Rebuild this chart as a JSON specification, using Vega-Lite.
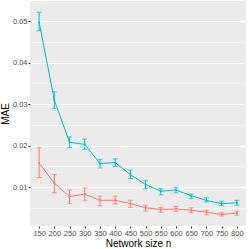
{
  "$schema": "https://vega.github.io/schema/vega-lite/v6.json",
  "width": 216,
  "height": 225,
  "autosize": {"type": "none"},
  "padding": {"left": 30, "top": 1, "right": 3, "bottom": 23},
  "background": "white",
  "config": {
    "view": {"fill": "#EBEBEB", "stroke": null},
    "font": "Liberation Sans",
    "axis": {
      "domain": false,
      "gridColor": "white",
      "gridWidth": 1,
      "tickColor": "#333333",
      "tickSize": 2,
      "tickWidth": 1,
      "labelColor": "#4D4D4D",
      "labelFontSize": 7.5,
      "labelFont": "Liberation Sans",
      "labelPadding": 1,
      "titleFont": "Liberation Sans",
      "titleFontSize": 10,
      "titleFontWeight": "normal",
      "titleColor": "black"
    }
  },
  "data": {
    "values": [
      {"n": 150, "group": "A", "mae": 0.0158, "lo": 0.0123, "hi": 0.0195},
      {"n": 200, "group": "A", "mae": 0.0109, "lo": 0.0086, "hi": 0.0130},
      {"n": 250, "group": "A", "mae": 0.0077, "lo": 0.0060, "hi": 0.0093},
      {"n": 300, "group": "A", "mae": 0.0083, "lo": 0.0068, "hi": 0.0098},
      {"n": 350, "group": "A", "mae": 0.0068, "lo": 0.0055, "hi": 0.0078},
      {"n": 400, "group": "A", "mae": 0.0068, "lo": 0.0059, "hi": 0.0078},
      {"n": 450, "group": "A", "mae": 0.0060, "lo": 0.0051, "hi": 0.0068},
      {"n": 500, "group": "A", "mae": 0.0050, "lo": 0.0042, "hi": 0.0056},
      {"n": 550, "group": "A", "mae": 0.0046, "lo": 0.0039, "hi": 0.0051},
      {"n": 600, "group": "A", "mae": 0.0047, "lo": 0.0041, "hi": 0.0053},
      {"n": 650, "group": "A", "mae": 0.0044, "lo": 0.0038, "hi": 0.0050},
      {"n": 700, "group": "A", "mae": 0.0039, "lo": 0.0033, "hi": 0.0044},
      {"n": 750, "group": "A", "mae": 0.0034, "lo": 0.0030, "hi": 0.0038},
      {"n": 800, "group": "A", "mae": 0.0037, "lo": 0.0032, "hi": 0.0042},
      {"n": 150, "group": "B", "mae": 0.0498, "lo": 0.0477, "hi": 0.0522},
      {"n": 200, "group": "B", "mae": 0.0310, "lo": 0.0290, "hi": 0.0330},
      {"n": 250, "group": "B", "mae": 0.0208, "lo": 0.0195, "hi": 0.0221},
      {"n": 300, "group": "B", "mae": 0.0203, "lo": 0.0191, "hi": 0.0216},
      {"n": 350, "group": "B", "mae": 0.0157, "lo": 0.0146, "hi": 0.0167},
      {"n": 400, "group": "B", "mae": 0.0159, "lo": 0.0150, "hi": 0.0168},
      {"n": 450, "group": "B", "mae": 0.0130, "lo": 0.0120, "hi": 0.0141},
      {"n": 500, "group": "B", "mae": 0.0106, "lo": 0.0096, "hi": 0.0116},
      {"n": 550, "group": "B", "mae": 0.0090, "lo": 0.0081, "hi": 0.0096},
      {"n": 600, "group": "B", "mae": 0.0093, "lo": 0.0086, "hi": 0.0099},
      {"n": 650, "group": "B", "mae": 0.0079, "lo": 0.0072, "hi": 0.0083},
      {"n": 700, "group": "B", "mae": 0.0068, "lo": 0.0064, "hi": 0.0074},
      {"n": 750, "group": "B", "mae": 0.0060, "lo": 0.0055, "hi": 0.0066},
      {"n": 800, "group": "B", "mae": 0.0062, "lo": 0.0056, "hi": 0.0068}
    ]
  },
  "encoding": {
    "x": {
      "field": "n",
      "type": "ordinal",
      "scale": {"type": "point", "padding": 0.6},
      "axis": {"title": "Network size n", "labelAngle": 0, "titlePadding": 2}
    },
    "y": {
      "field": "mae",
      "type": "quantitative",
      "scale": {"domain": [0.0006, 0.0549], "nice": false, "zero": false},
      "axis": {
        "title": "MAE",
        "titlePadding": 2,
        "values": [0.005, 0.01, 0.015, 0.02, 0.025, 0.03, 0.035, 0.04, 0.045, 0.05],
        "format": ".3f",
        "labelExpr": "slice(datum.label, -1) == '0' ? slice(datum.label, 0, 4) : ''",
        "gridWidth": {"condition": {"test": "datum.value * 200 % 2 > 0.5 && datum.value * 200 % 2 < 1.5", "value": 0.5}, "value": 1},
        "tickOpacity": {"condition": {"test": "datum.value * 200 % 2 > 0.5 && datum.value * 200 % 2 < 1.5", "value": 0}, "value": 1}
      }
    },
    "color": {
      "field": "group",
      "type": "nominal",
      "scale": {"domain": ["A", "B"], "range": ["#F8766D", "#00BFC4"]},
      "legend": null
    }
  },
  "layer": [
    {
      "mark": {"type": "rule", "strokeWidth": 1},
      "encoding": {
        "y": {"field": "lo", "type": "quantitative"},
        "y2": {"field": "hi"}
      }
    },
    {
      "mark": {"type": "tick", "thickness": 1, "size": 5},
      "encoding": {"y": {"field": "lo", "type": "quantitative"}}
    },
    {
      "mark": {"type": "tick", "thickness": 1, "size": 5},
      "encoding": {"y": {"field": "hi", "type": "quantitative"}}
    },
    {
      "mark": {"type": "line", "strokeWidth": 1}
    },
    {
      "mark": {"type": "point", "filled": true, "size": 4, "opacity": 1}
    }
  ]
}
